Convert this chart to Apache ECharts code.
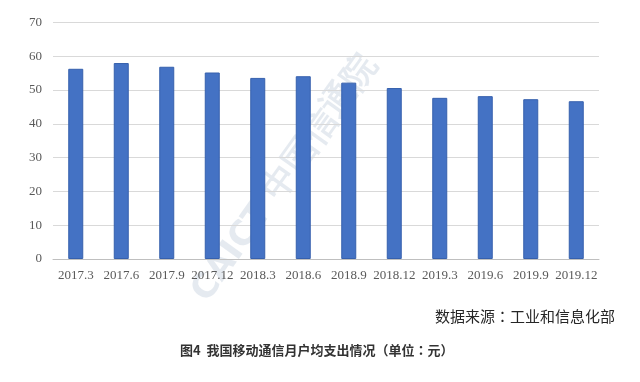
<!DOCTYPE html>
<html><head><meta charset="utf-8">
<script src="https://cdn.jsdelivr.net/npm/echarts@6/dist/echarts.min.js"></script>
<style>html,body{margin:0;padding:0;background:#fff}#c{width:640px;height:382px}</style>
</head><body><div id="c"></div>
<script>
const categories = ['2017.3','2017.6','2017.9','2017.12','2018.3','2018.6','2018.9','2018.12','2019.3','2019.6','2019.9','2019.12'];
const spending = [56.3, 58.0, 56.9, 55.2, 53.6, 54.1, 52.2, 50.6, 47.7, 48.2, 47.3, 46.7];
const sourceText = '数据来源{p|：}工业和信息化部';
const captionText = '图4  我国移动通信月户均支出情况{p|（}单位{p|：}元{p|）}';

const chart = echarts.init(document.getElementById('c'));
chart.setOption({
  animation: false,
  backgroundColor: '#fff',
  grid: { left: 53, right: 41, top: 22.5, bottom: 123, containLabel: false },
  xAxis: {
    type: 'category', data: categories,
    axisLine: { lineStyle: { color: '#bfbfbf', width: 1 } },
    axisTick: { show: false },
    axisLabel: { interval: 0, color: '#595959', fontFamily: 'Liberation Serif', fontSize: 13, margin: 10 }
  },
  yAxis: {
    type: 'value', min: 0, max: 70, interval: 10,
    axisLine: { show: false }, axisTick: { show: false },
    splitLine: { lineStyle: { color: '#d9d9d9', width: 1 } },
    axisLabel: { color: '#595959', fontFamily: 'Liberation Serif', fontSize: 13, margin: 11 }
  },
  series: [{
    type: 'bar', data: spending, barWidth: 15,
    itemStyle: { color: '#4472C4', borderColor: '#3660AD', borderWidth: 1 }
  }],
  graphic: [
    { type: 'text', right: 25, top: 309, style: { text: sourceText, fontFamily: 'Noto Sans CJK SC', fontSize: 15, fill: '#262626',
        rich: { p: { fontFamily: 'Noto Sans CJK TC', fontSize: 15, fill: '#262626' } } } },
    { type: 'text', left: 180, top: 344, style: { text: captionText, fontFamily: 'Noto Sans CJK SC', fontSize: 13, fontWeight: 'bold', fill: '#333',
        rich: { p: { fontFamily: 'Noto Sans CJK TC', fontSize: 13, fontWeight: 'bold', fill: '#333' } } } },
    { type: 'text', x: 200, y: 298, rotation: 54.5 * Math.PI / 180, silent: true,
      style: { text: 'CAICT 中国信通院', fontFamily: 'DejaVu Sans', fontSize: 34, fontWeight: 'bold', fill: 'rgba(170,185,205,0.3)', textVerticalAlign: 'middle' } }
  ]
});
</script></body></html>
